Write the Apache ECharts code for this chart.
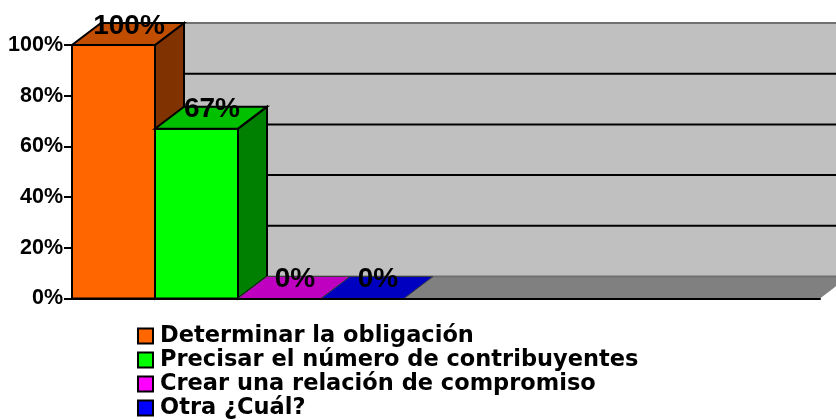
<!DOCTYPE html>
<html><head><meta charset="utf-8">
<style>html,body{margin:0;padding:0;background:#fff}#c{width:836px;height:420px}</style>
<script src="https://cdn.jsdelivr.net/npm/echarts@6/dist/echarts.min.js"></script>
</head><body><div id="c"></div>
<script>
const categories = ['Determinar la obligación','Precisar el número de contribuyentes','Crear una relación de compromiso','Otra ¿Cuál?'];
const values = [100,67,0,0];
const labels = ['100%','67%','0%','0%'];
const yTicks = [0,20,40,60,80,100];
const frontColors = ['#FF6600','#00FF00','#FF00FF','#0000FF'];
const topColors = ['#C04D00','#00C000','#C000C0','#0000C0'];
const sideColors = ['#803300','#008000','#800080','#000080'];
const DX = 29, DY = -22, XMAX = 9.012;
const FONT = '"Liberation Sans", Arial, sans-serif';

function poly(points, fill, stroke, lw){
  return {type:'polygon', shape:{points}, style:{fill, stroke:stroke||null, lineWidth:lw||0}};
}
function back(p){ return [p[0]+DX, p[1]+DY]; }

function renderWall(params, api){
  const bl = api.coord([0,0]), br = api.coord([XMAX,0]), tr = api.coord([XMAX,100]), tl = api.coord([0,100]);
  const kids = [
    poly([back(tl),back(tr),back(br),back(bl)],'#C0C0C0'),
    poly([bl,br,back(br),back(bl)],'#808080')
  ];
  yTicks.forEach(v=>{
    const a = back(api.coord([0,v])), b = back(api.coord([XMAX,v]));
    const edge = v===0 || v===100;
    kids.push({type:'line', shape:{x1:a[0],y1:a[1],x2:b[0],y2:b[1]},
      style:{stroke: edge?'#707070':'#000', lineWidth:2}});
  });
  return {type:'group', children:kids};
}
function renderBar(idx){
  return function(params, api){
    const v = values[idx];
    const x0 = idx, x1 = idx+1;
    const fl = api.coord([x0,0]), fr = api.coord([x1,0]), tl = api.coord([x0,v]), tr = api.coord([x1,v]);
    const stroke = '#000';
    const kids = [];
    if (v>0){
      kids.push(poly([tr,fr,back(fr),back(tr)],sideColors[idx],stroke,2));
      kids.push(poly([tl,tr,fr,fl],frontColors[idx],stroke,2));
    }
    kids.push(poly([tl,tr,back(tr),back(tl)],topColors[idx],v>0?stroke:'#404040',v>0?2:1));
    kids.push({type:'text', z2:50, style:{
      text:labels[idx], x:(tl[0]+tr[0])/2+DX/2+1, y:tl[1]+DY+3,
      align:'center', verticalAlign:'middle',
      font:'bold 28px '+FONT, fill:'#000'}});
    return {type:'group', children:kids};
  };
}
const series = [{
  type:'custom', name:'_wall', silent:true, clip:false, z:1,
  data:[[0,0]], encode:{x:0,y:1}, renderItem:renderWall
}];
categories.forEach((name,i)=>{
  series.push({type:'custom', name, clip:false, z:2+i, silent:true,
    itemStyle:{color:frontColors[i]},
    data:[[i,values[i]]], encode:{x:0,y:1}, renderItem:renderBar(i)});
});
const chart = echarts.init(document.getElementById('c'),null,{renderer:'canvas'});
chart.setOption({
  animation:false,
  backgroundColor:'#fff',
  grid:{left:72,top:45,width:748,height:253.5,containLabel:false},
  xAxis:{type:'value',min:0,max:XMAX,z:10,splitLine:{show:false},
    axisLabel:{show:false},axisTick:{show:false},
    axisLine:{show:true,onZero:false,lineStyle:{color:'#000',width:2}}},
  yAxis:{type:'value',min:0,max:100,interval:20,z:10,splitLine:{show:false},
    axisLine:{show:true,lineStyle:{color:'#000',width:2}},
    axisTick:{show:true,length:8,lineStyle:{color:'#000',width:2}},
    axisLabel:{formatter:'{value}%',margin:9,color:'#000',fontFamily:FONT,fontWeight:'bold',fontSize:21.5,padding:[2,0,0,0]}},
  legend:{orient:'vertical',left:137,top:324,width:680,height:120,data:categories,icon:'rect',
    itemWidth:15,itemHeight:15,itemGap:0,padding:0,selectedMode:false,
    itemStyle:{borderColor:'#000',borderWidth:2},
    textStyle:{color:'#000',fontFamily:'"DejaVu Sans", sans-serif',fontWeight:'bold',fontSize:22.5,lineHeight:24,height:24,padding:[0,0,0,2]}},
  series
});
</script></body></html>
